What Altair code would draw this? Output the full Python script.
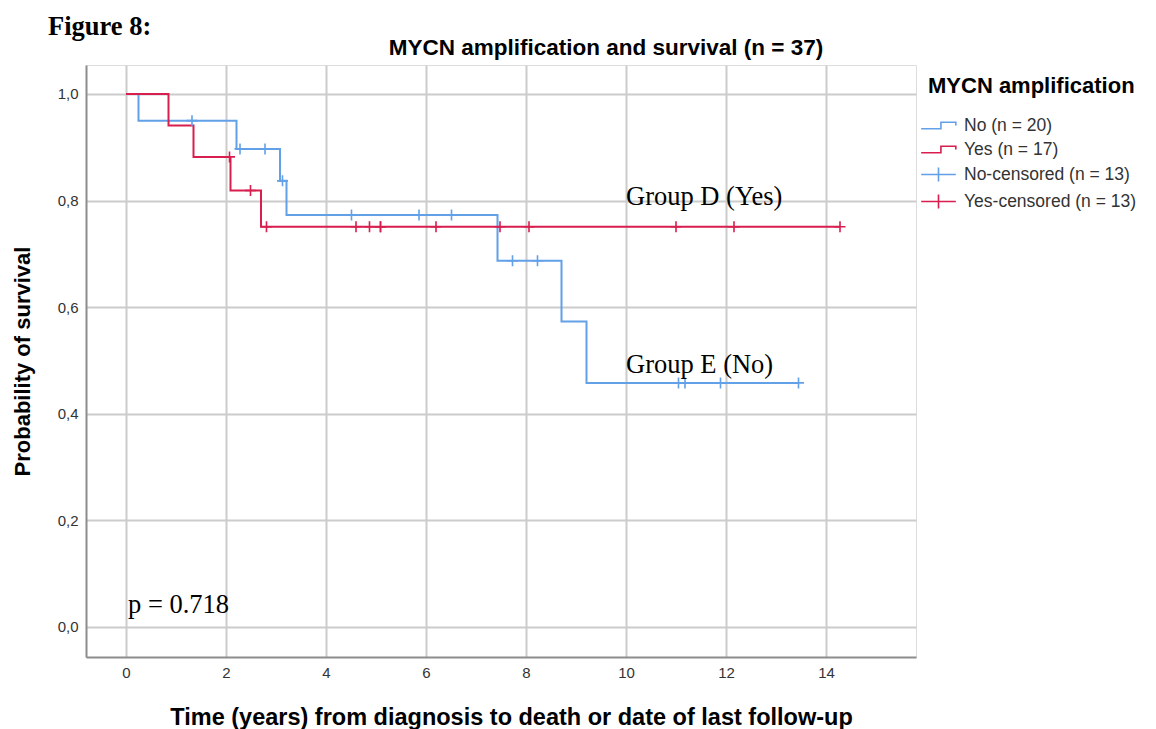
import altair as alt
import pandas as pd

# Kaplan-Meier estimate per group: time (years) where the curve steps, survival after the step
no_times = [0.0, 0.25, 2.21, 3.08, 3.21, 7.43, 8.71, 9.21, 13.45]
no_surv = [1.0, 0.95, 0.897, 0.837, 0.773, 0.687, 0.573, 0.458, 0.458]
yes_times = [0.0, 0.85, 1.35, 2.09, 2.70, 14.28]
yes_surv = [1.0, 0.941, 0.882, 0.819, 0.751, 0.751]

# censored observations (time, survival level at that time)
no_cens_times = [1.32, 2.28, 2.78, 3.13, 4.51, 5.86, 6.51, 7.73, 8.23, 11.05, 11.18, 11.89, 13.45]
no_cens_surv = [0.95, 0.897, 0.897, 0.837, 0.773, 0.773, 0.773, 0.687, 0.687, 0.458, 0.458, 0.458, 0.458]
yes_cens_times = [2.07, 2.49, 2.81, 4.60, 4.87, 5.09, 5.09, 6.20, 7.48, 8.06, 11.00, 12.16, 14.28]
yes_cens_surv = [0.882, 0.819, 0.751, 0.751, 0.751, 0.751, 0.751, 0.751, 0.751, 0.751, 0.751, 0.751, 0.751]

legend_labels = ["No (n = 20)", "Yes (n = 17)", "No-censored (n = 13)", "Yes-censored (n = 13)"]

note_texts = ["Group D (Yes)", "Group E (No)", "p = 0.718"]
note_x = [10.0, 10.0, 0.04]
note_y = [0.807, 0.492, 0.041]

x_ticks = [0, 2, 4, 6, 8, 10, 12, 14]
y_ticks = [0.0, 0.2, 0.4, 0.6, 0.8, 1.0]

TITLE = "MYCN amplification and survival (n = 37)"
FIG_LABEL = "Figure 8:"

BLUE = "#62a0e8"
RED = "#d81e4e"
SANS = "Liberation Sans"
SERIF = "Liberation Serif"

# legend glyphs drawn wider than the nominal symbol box so rows stay compact
STEP_PATH = "M-2,0.38L0.28,0.38L0.28,-0.38L2,-0.38L2,0"
LEGEND_CROSS = "M-2,0L2,0M0,-0.8L0,0.8"
CROSS = "M-1,0L1,0M0,-1L0,1"

curves = pd.concat([
    pd.DataFrame({"t": no_times, "s": no_surv, "group": "No"}),
    pd.DataFrame({"t": yes_times, "s": yes_surv, "group": "Yes"}),
])
censored = pd.concat([
    pd.DataFrame({"t": no_cens_times, "s": no_cens_surv, "group": "No",
                  "label": legend_labels[2]}),
    pd.DataFrame({"t": yes_cens_times, "s": yes_cens_surv, "group": "Yes",
                  "label": legend_labels[3]}),
])
notes = pd.DataFrame({"t": note_x, "s": note_y, "text": note_texts})

x_scale = alt.Scale(domain=[-0.8, 15.8], nice=False, zero=False)
y_scale = alt.Scale(domain=[-0.0563, 1.0544], nice=False, zero=False)

x_axis = alt.Axis(
    values=x_ticks, ticks=False, grid=True, gridColor="#cccccc", gridWidth=2,
    domainColor="#8c8c8c", domainWidth=2, labelFont=SANS, labelFontSize=15,
    labelColor="#333333", labelPadding=8,
    title="Time (years) from diagnosis to death or date of last follow-up",
    titleFont=SANS, titleFontSize=23.5, titleFontWeight="bold", titleColor="black",
    titlePadding=25, titleX=425,
)
y_axis = alt.Axis(
    values=y_ticks, ticks=False, grid=True, gridColor="#cccccc", gridWidth=2,
    domainColor="#8c8c8c", domainWidth=2, labelFont=SANS, labelFontSize=15,
    labelColor="#333333", labelPadding=8,
    labelExpr="replace(format(datum.value, '.1f'), '.', ',')",
    title="Probability of survival", titleFont=SANS, titleFontSize=22,
    titleFontWeight="bold", titleColor="black", titlePadding=23,
)

x_enc = alt.X("t:Q", scale=x_scale, axis=x_axis)
y_enc = alt.Y("s:Q", scale=y_scale, axis=y_axis)

base = alt.Chart(curves).encode(x=x_enc, y=y_enc)

no_line = base.transform_filter(alt.datum.group == "No").mark_line(
    interpolate="step-after", color=BLUE, strokeWidth=2)
yes_line = base.transform_filter(alt.datum.group == "Yes").mark_line(
    interpolate="step-after", color=RED, strokeWidth=2)

cens_base = alt.Chart(censored).encode(
    x=alt.X("t:Q", scale=x_scale), y=alt.Y("s:Q", scale=y_scale))
no_marks = cens_base.transform_filter(alt.datum.group == "No").mark_point(
    shape=CROSS, size=121, filled=False, color=BLUE, strokeWidth=1.6, opacity=1)
yes_marks = cens_base.transform_filter(alt.datum.group == "Yes").mark_point(
    shape=CROSS, size=121, filled=False, color=RED, strokeWidth=1.6, opacity=1)

# hidden layer carrying the legend (symbols stay visible through symbolOpacity)
legend_layer = cens_base.mark_point(filled=False, opacity=0).encode(
    color=alt.Color(
        "label:N",
        scale=alt.Scale(domain=legend_labels, range=[BLUE, RED, BLUE, RED]),
        legend=alt.Legend(
            title="MYCN amplification", orient="none", legendX=842, legendY=11,
            padding=0, titleFont=SANS, titleFontSize=22, titleFontWeight="bold",
            titleColor="black", titlePadding=18, titleLimit=400,
            labelFont=SANS, labelFontSize=17.5, labelLimit=400,
            labelColor="#333333", labelOffset=16, symbolSize=300,
            symbolStrokeWidth=1.6, symbolOpacity=1, symbolOffset=1,
            symbolFillColor="transparent", rowPadding=6,
        ),
    ),
    shape=alt.Shape(
        "label:N",
        scale=alt.Scale(domain=legend_labels,
                        range=[STEP_PATH, STEP_PATH, LEGEND_CROSS, LEGEND_CROSS]),
    ),
)

note_layer = alt.Chart(notes).mark_text(
    align="left", baseline="middle", font=SERIF, fontSize=26.5, color="black"
).encode(x=alt.X("t:Q", scale=x_scale), y=alt.Y("s:Q", scale=y_scale), text="text:N")

title_mark = alt.Chart(pd.DataFrame({"text": [TITLE]})).mark_text(
    align="center", baseline="middle", font=SANS, fontSize=22.5, fontWeight="bold",
    color="black"
).encode(x=alt.value(520), y=alt.value(-17), text="text:N")

fig_label = alt.Chart(pd.DataFrame({"text": [FIG_LABEL]})).mark_text(
    align="left", baseline="middle", font=SERIF, fontSize=26.5, fontWeight="bold",
    color="black"
).encode(x=alt.value(-38), y=alt.value(-38), text="text:N")

chart = alt.layer(
    no_line, yes_line, no_marks, yes_marks, legend_layer, note_layer, title_mark,
    fig_label
).properties(
    width=830, height=592,
    autosize=alt.AutoSizeParams(type="none"),
    padding={"left": 86, "top": 65, "right": 240, "bottom": 72},
).configure_view(stroke=None).configure(background="white")

chart.save("out.html", embed_options={"renderer": "svg", "actions": False})
